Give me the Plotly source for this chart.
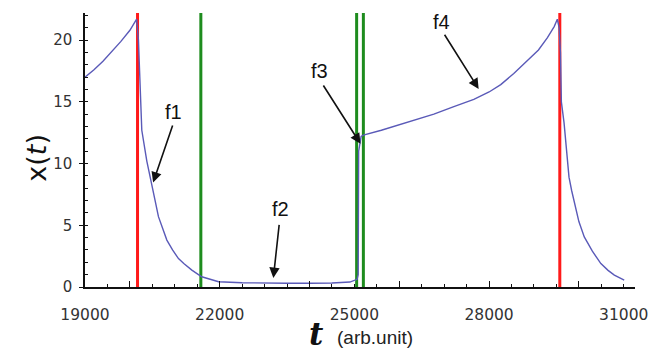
import plotly.graph_objects as go

# Blue curve x(t)
t_vals = [19000, 19200, 19400, 19600, 19800, 20000, 20150, 20190, 20215, 20235, 20265,
          20377, 20488, 20550, 20636, 20720, 20823, 20950, 21082, 21200, 21380, 21600,
          21975, 22500, 23000, 23500, 24000, 24500, 24900, 25000, 25060, 25085, 25095,
          25150, 25200, 25600, 26030, 26400, 26770, 27200, 27660, 28000, 28260, 28550,
          28850, 29100, 29300, 29450, 29520, 29560, 29590, 29610, 29670, 29780, 29840,
          29900, 30000, 30120, 30300, 30490, 30650, 30790, 30900, 31010]
x_vals = [17.0, 17.6, 18.3, 19.1, 19.9, 20.8, 21.7, 20.0, 17.0, 15.5, 12.7,
          10.2, 8.1, 7.2, 5.7, 4.8, 3.8, 3.0, 2.3, 1.9, 1.37, 0.83,
          0.43, 0.35, 0.3, 0.3, 0.3, 0.32, 0.4, 0.55, 0.62, 1.0, 11.0,
          12.2, 12.3, 12.7, 13.2, 13.6, 14.0, 14.6, 15.2, 15.8, 16.4, 17.3,
          18.3, 19.2, 20.2, 21.1, 21.7, 21.0, 19.0, 15.0, 13.3, 8.9, 7.8,
          6.75, 5.3, 4.06, 2.9, 1.9, 1.35, 0.97, 0.75, 0.56]

red_lines = [20170, 29575]
green_lines = [21580, 25050, 25200]
y_top = 22.2

x_ticklabels = [19000, 22000, 25000, 28000, 31000]
x_major_ticks = [20000, 22000, 24000, 26000, 28000, 30000]
y_ticklabels = [0, 5, 10, 15, 20]

labels = ["f1", "f2", "f3", "f4"]
label_pos_t = [20963, 23350, 24220, 26943]
label_pos_x = [14.2, 6.3, 17.5, 21.45]
tail_t = [20963, 23328, 24288, 26988]
tail_x = [13.2, 5.16, 16.45, 20.56]
head_t = [20517, 23195, 25136, 27768]
head_x = [8.47, 0.73, 11.6, 16.05]

fig = go.Figure()

for v in red_lines:
    fig.add_trace(go.Scatter(x=[v, v], y=[0, y_top], mode="lines",
                             line=dict(color="#ff1a1a", width=3), showlegend=False,
                             hoverinfo="skip"))
for v in green_lines:
    fig.add_trace(go.Scatter(x=[v, v], y=[0, y_top], mode="lines",
                             line=dict(color="#1e8c1e", width=3), showlegend=False,
                             hoverinfo="skip"))

fig.add_trace(go.Scatter(x=t_vals, y=x_vals, mode="lines",
                         line=dict(color="#5a5ab8", width=1.4), showlegend=False))

# invisible trace so the label axis is drawn
fig.add_trace(go.Scatter(x=[x_ticklabels[0]], y=[0], xaxis="x2", mode="markers",
                         marker=dict(opacity=0), showlegend=False, hoverinfo="skip"))

for i, lab in enumerate(labels):
    fig.add_annotation(x=head_t[i], y=head_x[i], ax=tail_t[i], ay=tail_x[i],
                       xref="x", yref="y", axref="x", ayref="y", text="",
                       showarrow=True, arrowhead=2, arrowsize=1.3, arrowwidth=1.6,
                       arrowcolor="#111111")
    fig.add_annotation(x=label_pos_t[i], y=label_pos_x[i], xref="x", yref="y",
                       text=lab, showarrow=False,
                       font=dict(family="Liberation Sans, Arial", size=20, color="#111111"))

# axis titles
fig.add_annotation(x=-0.12, y=0.47, xref="paper", yref="paper",
                   text="x(<i>t</i>)", textangle=-90, showarrow=False,
                   font=dict(family="DejaVu Sans", size=27, color="#111111"))
fig.add_annotation(x=0.42, y=-0.245, xref="paper", yref="paper",
                   text="<i><b>t</b></i>", showarrow=False,
                   font=dict(family="DejaVu Serif", size=31, color="#111111"))
fig.add_annotation(x=0.527, y=-0.23, xref="paper", yref="paper",
                   text="(arb.unit)", showarrow=False,
                   font=dict(family="Liberation Sans, Arial", size=19, color="#222222"))

fig.update_layout(
    width=650, height=352,
    margin=dict(l=85, r=15, t=13, b=65, autoexpand=False),
    plot_bgcolor="white", paper_bgcolor="white",
    xaxis=dict(range=[19000, 31250], showgrid=False, zeroline=False,
               showline=True, linecolor="#111111", linewidth=1.5,
               tickmode="array", tickvals=x_major_ticks, showticklabels=False,
               ticks="inside", ticklen=6, tickcolor="#111111", tickwidth=1.3,
               minor=dict(tickmode="linear", tick0=19000, dtick=500, ticks="inside",
                          ticklen=3, tickcolor="#111111", tickwidth=1.2)),
    xaxis2=dict(range=[19000, 31250], overlaying="x", side="bottom", anchor="y",
                showgrid=False, zeroline=False, showline=False,
                tickmode="array", tickvals=x_ticklabels,
                ticktext=[str(v) for v in x_ticklabels],
                ticks="", ticklabelstandoff=16, ticklabeloverflow="allow",
                tickfont=dict(family="DejaVu Sans", size=15.5, color="#333333")),
    yaxis=dict(range=[0, y_top], showgrid=False, zeroline=False,
               showline=True, linecolor="#111111", linewidth=1.5,
               tickmode="array", tickvals=y_ticklabels,
               ticks="outside", ticklen=4, tickcolor="#111111", tickwidth=1.2,
               ticklabelstandoff=4,
               tickfont=dict(family="DejaVu Sans", size=15, color="#333333"),
               minor=dict(tickmode="linear", tick0=0, dtick=1, ticks="inside",
                          ticklen=3, tickcolor="#111111", tickwidth=1.2)),
)

fig.write_html("out.html", config={"displayModeBar": False},
               post_script="document.body.style.margin='0';document.body.style.overflow='hidden';")
